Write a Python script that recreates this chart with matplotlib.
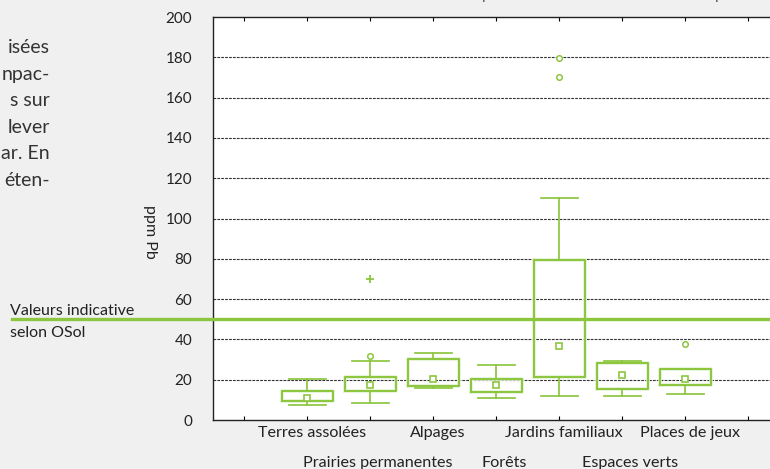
import matplotlib.pyplot as plt
import matplotlib.patheffects as pe

plt.rcParams['font.family'] = ['Lato', 'DejaVu Sans']

# Données (ppm Pb)
categories = ['Terres assolées', 'Prairies permanentes', 'Alpages', 'Forêts',
              'Jardins familiaux', 'Espaces verts', 'Places de jeux']
positions = [1, 2, 3, 4, 5, 6, 7]
whislo = [7.6, 8.4, 16.0, 11.1, 12.1, 12.1, 13.1]
q1 = [9.4, 14.4, 17.0, 13.7, 21.2, 15.2, 17.2]
q3 = [14.4, 21.2, 30.1, 20.2, 79.4, 28.1, 25.2]
whishi = [20.2, 29.1, 33.4, 27.1, 110.0, 29.3, 25.5]
means = [10.9, 17.5, 20.3, 17.5, 36.7, 22.3, 20.3]
fliers = [[], [31.9], [], [], [179.7, 170.0], [], [37.7]]
extremes_pos = [2]
extremes_val = [70.0]
seuil = 50

paragraphe = ['isées', 'npac-', 's sur', 'lever', 'ar. En', 'éten-']

vert = '#8CC63F'
halo = [pe.withStroke(linewidth=2.6, foreground='#e3f2d2'), pe.Normal()]

fig = plt.figure(figsize=(7.7, 4.69), dpi=100, facecolor='#f0f0f0')
ax = fig.add_axes([213/770, 49/469, 567/770, 403/469])
ax.set_facecolor('white')

stats = []
for i in range(len(categories)):
    stats.append(dict(med=means[i], q1=q1[i], q3=q3[i], whislo=whislo[i],
                      whishi=whishi[i], mean=means[i], fliers=fliers[i]))

bp = ax.bxp(stats, positions=positions, widths=0.8, capwidths=0.58,
            showmeans=True, patch_artist=False,
            boxprops=dict(color=vert, lw=1.25),
            whiskerprops=dict(color=vert, lw=1.25),
            capprops=dict(color=vert, lw=1.25),
            medianprops=dict(lw=0),
            meanprops=dict(marker='s', markersize=4, markerfacecolor='white',
                           markeredgecolor=vert, markeredgewidth=1.2),
            flierprops=dict(marker='o', markersize=4, markerfacecolor='white',
                            markeredgecolor=vert, markeredgewidth=1.1))
for b in bp['boxes']:
    b.set_path_effects(halo)

ax.plot(extremes_pos, extremes_val, '+', color=vert, markersize=6, mew=1.3)

ax.set_xlim(-0.5, 8.5)
ax.set_ylim(0, 200)
ax.set_yticks(range(0, 201, 20))
ax.set_xticks(range(0, 9))
ax.set_xticklabels([])
ax.tick_params(axis='y', length=0, pad=15, labelsize=11, labelcolor='#222222')
ax.tick_params(axis='x', direction='in', length=3, top=True, width=0.8)
for y in range(20, 200, 20):
    ax.axhline(y, color='#333333', lw=0.8, ls=(0, (2.5, 1)), zorder=0)
for s in ['left', 'top', 'bottom']:
    ax.spines[s].set_linewidth(1.0)
    ax.spines[s].set_color('#222222')

# étiquettes des catégories sur deux rangées
for p, c in zip(positions, categories):
    if p % 2 == 1:
        ax.text(p + 0.07, -3, c, ha='center', va='top', fontsize=11.6, color='#222222')
    else:
        ax.text(p + 0.12, -18, c, ha='center', va='top', fontsize=11.6, color='#222222')

ax.set_ylabel('ppm Pb', rotation=-90, fontsize=11.5, color='#222222')
ax.yaxis.set_label_coords(-(213 - 143)/567, (420 - 232)/403)

# valeur indicative OSol
ax.axhline(seuil, xmin=-(213 - 12)/567, xmax=1, color=vert, lw=2.4,
           clip_on=False, zorder=5)
fig.text(10/770, 1 - 315/469, 'Valeurs indicative', ha='left', va='baseline',
         fontsize=11.5, color='#222222')
fig.text(10/770, 1 - 337/469, 'selon OSol', ha='left', va='baseline',
         fontsize=11.5, color='#222222')

# texte du paragraphe coupé à gauche
for i, t in enumerate(paragraphe):
    fig.text(50/770, 1 - (53 + 26.6*i)/469, t, ha='right', va='baseline',
             fontsize=14, color='#333333')

# bouts de texte coupés en haut
for x in [482, 715]:
    fig.text(x/770, 1 + 1/469, 'p', ha='left', va='baseline', fontsize=11,
             color='#555555')

fig.savefig('out.png', dpi=100, facecolor=fig.get_facecolor())
